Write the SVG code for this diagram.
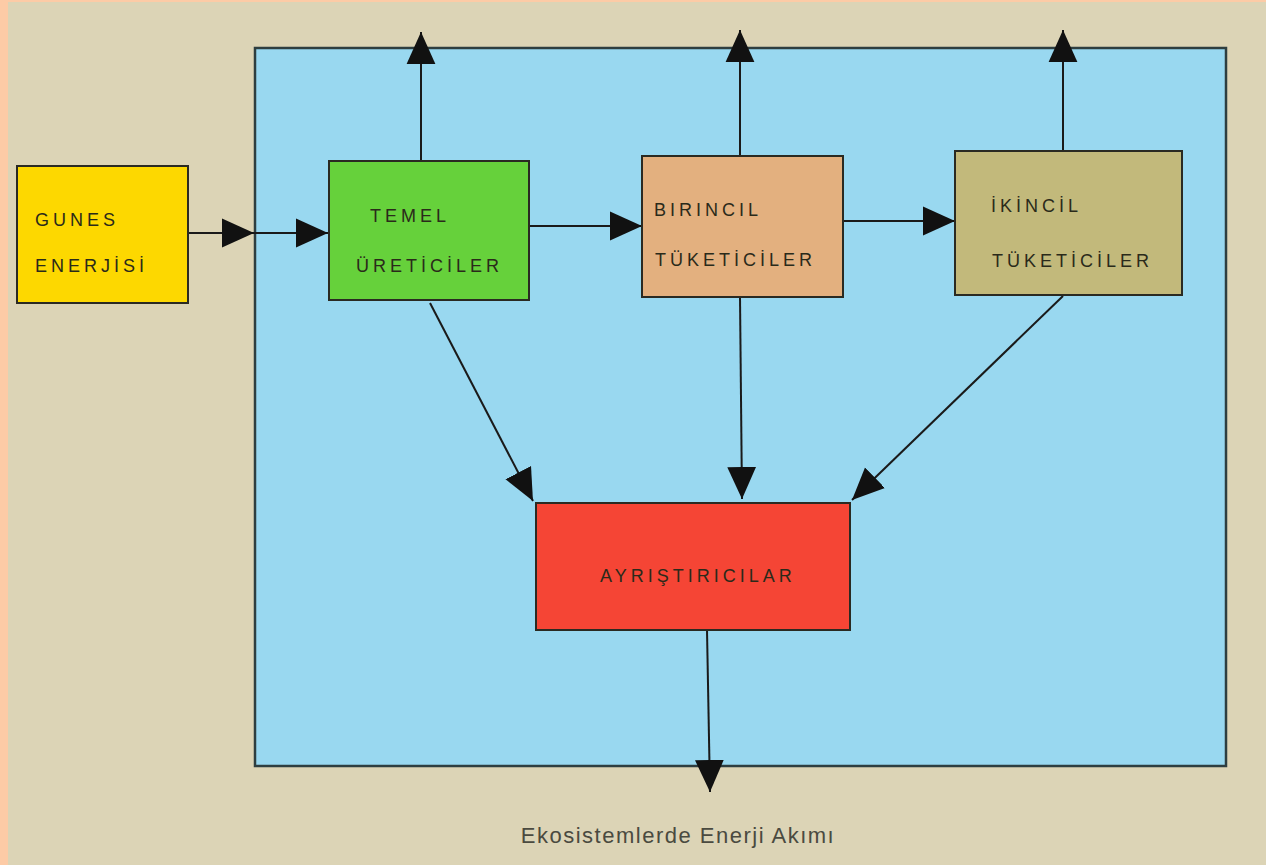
<svg xmlns="http://www.w3.org/2000/svg" width="1266" height="865" viewBox="0 0 1266 865">
<defs>
<style>
.lbl{font-family:"Liberation Sans",Arial,sans-serif;font-size:18px;letter-spacing:4px;fill:#2a2a1a}
.box{stroke:#2a2a22;stroke-width:2}
.ln{stroke:#1a1a1a;stroke-width:2;fill:none}
</style>
<marker id="ah" viewBox="0 0 10 10" refX="10" refY="5" markerWidth="32" markerHeight="32" markerUnits="userSpaceOnUse" orient="auto">
<path d="M0,0.5 L10,5 L0,9.5 Z" fill="#111"/>
</marker>
</defs>
<rect x="0" y="0" width="1266" height="865" fill="#dcd4b6"/>
<rect x="0" y="0" width="8" height="865" fill="#fdcba6"/>
<rect x="0" y="0" width="1266" height="2" fill="#fdcba6"/>
<g id="ecosystem"><rect x="255" y="48" width="971" height="718" fill="#99d8f0" stroke="#2e3e40" stroke-width="2.5"/></g>
<g id="connectors">
<line class="ln" x1="421" y1="160" x2="421" y2="32" marker-end="url(#ah)"/>
<line class="ln" x1="740" y1="155" x2="740" y2="30" marker-end="url(#ah)"/>
<line class="ln" x1="1063" y1="150" x2="1063" y2="30" marker-end="url(#ah)"/>
<line class="ln" x1="188" y1="233" x2="254" y2="233" marker-end="url(#ah)"/>
<line class="ln" x1="254" y1="233" x2="328" y2="233" marker-end="url(#ah)"/>
<line class="ln" x1="529" y1="226" x2="642" y2="226" marker-end="url(#ah)"/>
<line class="ln" x1="843" y1="221" x2="955" y2="221" marker-end="url(#ah)"/>
<line class="ln" x1="430" y1="303" x2="533" y2="501" marker-end="url(#ah)"/>
<line class="ln" x1="740" y1="297" x2="742" y2="499" marker-end="url(#ah)"/>
<line class="ln" x1="1063" y1="296" x2="852" y2="500" marker-end="url(#ah)"/>
<line class="ln" x1="707" y1="630" x2="710" y2="792" marker-end="url(#ah)"/>
</g>
<g id="gunes"><rect class="box" x="17" y="166" width="171" height="137" fill="#fdd800"/>
<text class="lbl" x="35" y="226">GUNES</text><text class="lbl" x="35" y="272">ENERJİSİ</text></g>
<g id="temel"><rect class="box" x="329" y="161" width="200" height="139" fill="#66d13b"/>
<text class="lbl" x="370" y="222">TEMEL</text><text class="lbl" x="356" y="272">ÜRETİCİLER</text></g>
<g id="birincil"><rect class="box" x="642" y="156" width="201" height="141" fill="#e3b07f"/>
<text class="lbl" x="654" y="216">BIRINCIL</text><text class="lbl" x="655" y="266">TÜKETİCİLER</text></g>
<g id="ikincil"><rect class="box" x="955" y="151" width="227" height="144" fill="#c2b97b"/>
<text class="lbl" x="991" y="212">İKİNCİL</text><text class="lbl" x="992" y="267">TÜKETİCİLER</text></g>
<g id="ayristiricilar"><rect class="box" x="536" y="503" width="314" height="127" fill="#f54535"/>
<text class="lbl" x="600" y="582" fill="#5a1010">AYRIŞTIRICILAR</text></g>
<text x="678" y="843" text-anchor="middle" font-family="Liberation Sans,Arial,sans-serif" font-size="22" letter-spacing="1.5" fill="#4a4a40">Ekosistemlerde Enerji Akımı</text>
</svg>
